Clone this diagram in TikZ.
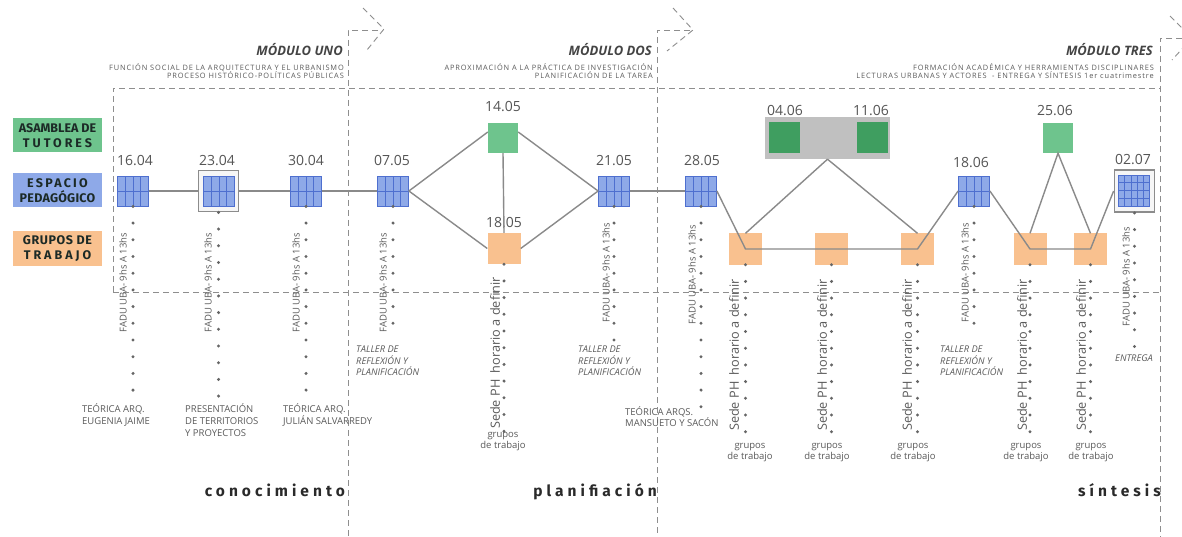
\documentclass[tikz,border=0pt]{standalone}
\usepackage{fontspec}
\setmainfont{Open Sans}
\newfontfamily\fira{Fira Sans}
\usetikzlibrary{calc}
\definecolor{agreen}{HTML}{6EC48D}
\definecolor{dgreen}{HTML}{3F9E60}
\definecolor{ablue}{HTML}{8EA9E8}
\definecolor{bblue}{HTML}{4E6FCF}
\definecolor{aorange}{HTML}{F9C18F}
\definecolor{lgray}{HTML}{C0C0C0}
\definecolor{guidec}{HTML}{8E8E8E}
\definecolor{linkc}{HTML}{8A8A8A}
\definecolor{dotc}{HTML}{666666}
\definecolor{datec}{HTML}{555555}
\definecolor{txtc}{HTML}{5A5A5A}
\definecolor{titc}{HTML}{444444}
\definecolor{labc}{HTML}{1C2A26}
\definecolor{phasec}{HTML}{2A2A2A}
\definecolor{framec}{HTML}{8C8C8C}
\tikzset{
 guide/.style={draw=guidec, line width=0.9pt, dash pattern=on 6pt off 4pt},
 link/.style={draw=linkc, line width=1.4pt},
 dotcol/.style={draw=dotc, line width=3.3pt, line cap=round, dash pattern=on 0pt off 16.7pt},
 bluesq/.style={draw=bblue, fill=ablue, line width=0.8pt, minimum width=31pt, minimum height=30pt, inner sep=0pt,
   path picture={
     \foreach \f in {0.25,0.5,0.75}
       \draw[bblue, line width=0.7pt] ($(path picture bounding box.south west)!\f!(path picture bounding box.south east)$) -- ($(path picture bounding box.north west)!\f!(path picture bounding box.north east)$);
     \draw[bblue, line width=0.7pt] (path picture bounding box.west) -- (path picture bounding box.east);}},
 bluefine/.style={draw=bblue, fill=ablue, line width=0.8pt, minimum width=31pt, minimum height=31pt, inner sep=0pt,
   path picture={
     \foreach \f in {0.2,0.4,0.6,0.8}
       \draw[bblue, line width=0.6pt] ($(path picture bounding box.south west)!\f!(path picture bounding box.south east)$) -- ($(path picture bounding box.north west)!\f!(path picture bounding box.north east)$);
     \foreach \f in {0.25,0.5,0.75}
       \draw[bblue, line width=0.6pt] ($(path picture bounding box.south west)!\f!(path picture bounding box.north west)$) -- ($(path picture bounding box.south east)!\f!(path picture bounding box.north east)$);}},
 framebox/.style={draw=framec, line width=1.8pt, fill=white!93!gray, minimum width=40pt, minimum height=41pt, inner sep=0pt},
 greensq/.style={fill=agreen, minimum size=30pt, inner sep=0pt},
 darksq/.style={fill=dgreen, minimum width=31pt, minimum height=31pt, inner sep=0pt},
 graybox/.style={fill=lgray, minimum width=125pt, minimum height=42pt, inner sep=0pt},
 orsq/.style={fill=aorange, minimum width=33pt, minimum height=31pt, inner sep=0pt},
 date/.style={text=datec, font=\fontsize{14}{16}\selectfont, inner sep=0pt},
 fadu/.style={rotate=90, anchor=east, inner sep=0pt, text=txtc, font=\fontsize{9.5}{10}\selectfont},
 sede/.style={rotate=90, anchor=east, inner sep=0pt, text=txtc, font=\fontsize{12.7}{14}\selectfont},
 note/.style={anchor=base west, align=left, inner sep=0pt, text=txtc, font=\fontsize{9.5}{12}\selectfont},
 taller/.style={anchor=base west, align=left, inner sep=0pt, text=txtc, font=\itshape\fontsize{9.3}{11.5}\selectfont},
 grupos/.style={anchor=base, align=center, inner sep=0pt, text=txtc, font=\fontsize{9.5}{11.5}\selectfont},
 modtitle/.style={anchor=base east, inner sep=0pt, text=titc, font=\bfseries\itshape\fontsize{13}{15}\selectfont},
 modsub/.style={anchor=base east, inner sep=0pt, text=txtc, font=\fontsize{7.4}{8}\selectfont\addfontfeature{LetterSpace=12}},
 rowlab/.style={minimum width=89pt, minimum height=34pt, inner sep=0pt, align=center, text=labc, font=\fira\bfseries\fontsize{12.5}{14.5}\selectfont},
 phase/.style={anchor=base east, inner sep=0pt, text=phasec, font=\fira\bfseries\fontsize{15.5}{18}\selectfont\addfontfeature{LetterSpace=26}},
}
\begin{document}
\begin{tikzpicture}[x=1pt, y=-1pt]
\useasboundingbox[fill=white] (0,0) rectangle (1182,537);
% guides
\draw[guide] (113,292) -- (113,88) -- (1160,88);
\draw[guide] (113,292) -- (1160,292);
\draw[guide] (378,30) -- (348,30) -- (348,537);
\draw[guide] (690,30) -- (657,30) -- (657,537);
\draw[guide] (1182,38) -- (1160,38) -- (1160,537);
\draw[guide] (363,8) -- (384,29) -- (367,50);
\draw[guide] (673,8) -- (693,30) -- (667,51);
\draw[guide] (1170,16) -- (1192,38) -- (1172,60);
% module headers
\node[modtitle] (m1) at (343,56) {MÓDULO UNO};
\node[modsub] (m1a) at (344,70.5) {FUNCIÓN SOCIAL DE LA ARQUITECTURA Y EL URBANISMO};
\node[modsub] (m1b) at (344,78.5) {PROCESO HISTÓRICO-POLÍTICAS PÚBLICAS};
\node[modtitle] (m2) at (652,56) {MÓDULO DOS};
\node[modsub] (m2a) at (653,70.5) {APROXIMACIÓN A LA PRÁCTICA DE INVESTIGACIÓN};
\node[modsub] (m2b) at (653,78.5) {PLANIFICACIÓN DE LA TAREA};
\node[modtitle] (m3) at (1153,56) {MÓDULO TRES};
\node[modsub] (m3a) at (1154,70.5) {FORMACIÓN ACADÉMICA Y HERRAMIENTAS DISCIPLINARES};
\node[modsub] (m3b) at (1154,78.5) {LECTURAS URBANAS Y ACTORES\ \ - ENTREGA Y SÍNTESIS 1er cuatrimestre};
% row labels
\node[rowlab, fill=agreen] (ra) at (57.5,135.5) {ASAMBLEA DE\\{\addfontfeature{LetterSpace=24}TUTORES}};
\node[rowlab, fill=ablue] (re) at (57.5,190.5) {{\addfontfeature{LetterSpace=18}ESPACIO}\\{\addfontfeature{LetterSpace=2}PEDAGÓGICO}};
\node[rowlab, fill=aorange] (rg) at (57.5,248.5) {{\addfontfeature{LetterSpace=5}GRUPOS DE}\\{\addfontfeature{LetterSpace=24}TRABAJO}};
% nodes
\node[framebox] (f2) at (218.5,191) {};
\node[framebox, minimum height=42pt] (f8) at (1134.5,191) {};
\node[bluesq] (b1) at (133,191) {};
\node[bluesq] (b2) at (219,191) {};
\node[bluesq] (b3) at (306,191) {};
\node[bluesq] (b4) at (393,191) {};
\node[bluesq] (b5) at (614,191) {};
\node[bluesq] (b6) at (701,191) {};
\node[bluesq] (b7) at (974,191) {};
\node[bluefine] (b8) at (1134,190.5) {};
\node[greensq] (g1) at (503,138) {};
\node[greensq] (g2) at (1058,138) {};
\node[graybox] (gb) at (827.5,138) {};
\node[darksq] (k1) at (784,137.5) {};
\node[darksq] (k2) at (872,137.5) {};
\node[orsq] (o0) at (504,248.5) {};
\node[orsq] (o1) at (745.5,249) {};
\node[orsq] (o2) at (831.5,249) {};
\node[orsq] (o3) at (917.5,249) {};
\node[orsq] (o4) at (1030,249) {};
\node[orsq] (o5) at (1090.5,249) {};
% dates
\node[date] (d1) at (135,161) {16.04};
\node[date] (d2) at (217,161) {23.04};
\node[date] (d3) at (306,161) {30.04};
\node[date] (d4) at (392,161) {07.05};
\node[date] (d5) at (503,107) {14.05};
\node[date] (d6) at (504,223) {18.05};
\node[date] (d7) at (614,161) {21.05};
\node[date] (d8) at (702,161) {28.05};
\node[date] (d9) at (785,111) {04.06};
\node[date] (d10) at (871,111) {11.06};
\node[date] (d11) at (971,163) {18.06};
\node[date] (d12) at (1055,111) {25.06};
\node[date] (d13) at (1133,160) {02.07};
% links
\draw[link] (b1) -- (f2);
\draw[link] (f2) -- (b3);
\draw[link] (b3) -- (b4);
\draw[link] (b4.east) -- ([yshift=6pt]g1.west);
\draw[link] (b4.east) -- (o0.west);
\draw[link] ([yshift=6pt]g1.east) -- (b5.west);
\draw[link] (o0.east) -- (b5.west);
\draw[link] (g1.south) -- (o0.north);
\draw[link] (b5) -- (b6);
\draw[link] (b6.east) -- (o1.center) -- (o2.center) -- (o3.center) -- (b7.west);
\draw[link] (gb.south) -- (o1.north);
\draw[link] (gb.south) -- (o3.north);
\draw[link] (b7.east) -- (o4.center) -- (o5.center) -- (f8.west);
\draw[link] (o4.north) -- (g2.south) -- (o5.north);
% dotted drops
\draw[dotcol] (b1.south) -- ++(0,184);
\draw[dotcol] (f2.south) -- ++(0,184);
\draw[dotcol] (b3.south) -- ++(0,184);
\draw[dotcol] (b4.south) -- ++(0,118);
\draw[dotcol] (b5.south) -- ++(0,134);
\draw[dotcol] (b6.south) -- ++(0,201);
\draw[dotcol] (b7.south) -- ++(0,118);
\draw[dotcol] (f8.south) -- ++(0,134);
\draw[dotcol] (o0.south) -- ++(0,167);
\draw[dotcol] (o1.south) -- ++(0,167);
\draw[dotcol] (o2.south) -- ++(0,167);
\draw[dotcol] (o3.south) -- ++(0,167);
\draw[dotcol] (o4.south) -- ++(0,167);
\draw[dotcol] (o5.south) -- ++(0,167);
% rotated texts
\node[fadu] (r1) at (123,233) {FADU UBA- 9hs A 13hs};
\node[fadu] (r2) at (208,233) {FADU UBA- 9hs A 13hs};
\node[fadu] (r3) at (296,233) {FADU UBA- 9hs A 13hs};
\node[fadu] (r4) at (383,233) {FADU UBA- 9hs A 13hs};
\node[fadu] (r5) at (606,223) {FADU UBA- 9hs A 13hs};
\node[fadu] (r6) at (692,225) {FADU UBA- 9hs A 13hs};
\node[fadu] (r7) at (965,223) {FADU UBA- 9hs A 13hs};
\node[fadu] (r8) at (1126,227) {FADU UBA- 9hs A 13hs};
\node[sede] (s0) at (495,277) {Sede PH\ \ horario a definir};
\node[sede] (s1) at (734,279) {Sede PH\ \ horario a definir};
\node[sede] (s2) at (822,279) {Sede PH\ \ horario a definir};
\node[sede] (s3) at (907,279) {Sede PH\ \ horario a definir};
\node[sede] (s4) at (1022,279) {Sede PH\ \ horario a definir};
\node[sede] (s5) at (1081,279) {Sede PH\ \ horario a definir};
% notes (base anchor = last line)
\node[note] (n1) at (82,424.5) {TEÓRICA ARQ.\\EUGENIA JAIME};
\node[note] (n2) at (185,436.5) {PRESENTACIÓN\\DE TERRITORIOS\\Y PROYECTOS};
\node[note] (n3) at (283,424.5) {TEÓRICA ARQ.\\JULIÁN SALVARREDY};
\node[note, font=\fontsize{9.5}{11}\selectfont] (n4) at (625,426.5) {TEÓRICA ARQS.\\MANSUETO Y SACÓN};
\node[taller] (w1) at (356,375.5) {TALLER DE\\REFLEXIÓN Y\\PLANIFICACIÓN};
\node[taller] (w2) at (578,375.5) {TALLER DE\\REFLEXIÓN Y\\PLANIFICACIÓN};
\node[taller] (w3) at (940,375.5) {TALLER DE\\REFLEXIÓN Y\\PLANIFICACIÓN};
\node[taller] (w4) at (1115,361.5) {ENTREGA};
\node[grupos] (p0) at (503,448.5) {grupos\\de trabajo};
\node[grupos] (p1) at (750,459.5) {grupos\\de trabajo};
\node[grupos] (p2) at (827,459.5) {grupos\\de trabajo};
\node[grupos] (p3) at (913,459.5) {grupos\\de trabajo};
\node[grupos] (p4) at (1026,459.5) {grupos\\de trabajo};
\node[grupos] (p5) at (1091,459.5) {grupos\\de trabajo};
% phases
\node[phase] (h1) at (345,496) {conocimiento};
\node[phase] (h2) at (657,496) {planifiación};
\node[phase] (h3) at (1161,496) {síntesis};
\end{tikzpicture}
\end{document}
